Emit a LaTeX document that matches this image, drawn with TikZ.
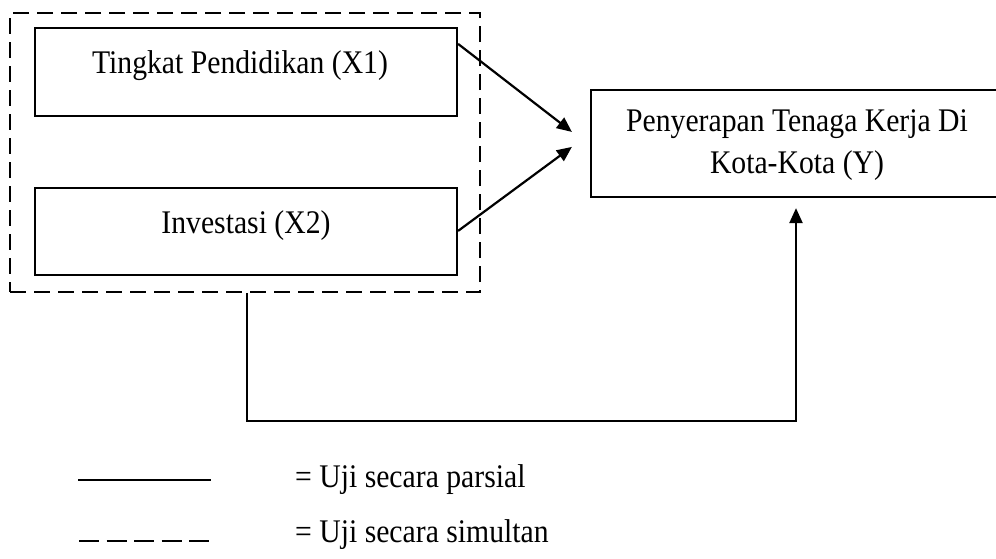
\documentclass[tikz,border=0pt]{standalone}
\usepackage{fontspec}
\setmainfont{Liberation Serif}[FakeStretch=0.9]
\usetikzlibrary{arrows.meta,calc}
\begin{document}
\begin{tikzpicture}[x=1pt,y=-1pt,
  box/.style={draw=black,line width=2.2pt,rectangle,inner sep=0pt},
  simbox/.style={draw=black,line width=2.2pt,rectangle,inner sep=0pt,dash pattern=on 16pt off 8pt},
  lbl/.style={inner sep=0pt,anchor=base,font=\fontsize{33}{36}\selectfont},
  conn/.style={draw=black,line width=2.2pt,-{Triangle[length=15pt,width=13pt]}},
  legsolid/.style={draw=black,line width=2.4pt},
  legdash/.style={draw=black,line width=2.4pt,dash pattern=on 20pt off 7.5pt}]
\useasboundingbox (0,0) rectangle (996,558);
\fill[white] (0,0) rectangle (996,558);
% boxes
\node[simbox,minimum width=470pt,minimum height=279pt] (sim) at (245,152.5) {};
\node[box,minimum width=422pt,minimum height=88pt] (x1) at (246,72) {};
\node[box,minimum width=422pt,minimum height=87pt] (x2) at (246,231.5) {};
\node[box,minimum width=412pt,minimum height=107pt] (y) at (797,143.5) {};
% texts
\node[lbl] (t1) at (240,73) {Tingkat Pendidikan (X1)};
\node[lbl] (t2) at (246,233) {Investasi (X2)};
\node[lbl] (ty1) at (797,131) {Penyerapan Tenaga Kerja Di};
\node[lbl] (ty2) at (797,173) {Kota-Kota (Y)};
% connectors
\coordinate (x1out) at ($(x1.north east)+(0,17)$);
\coordinate (x2out) at ($(x2.north east)+(0,44)$);
\coordinate (yin1) at ($(y.north west)+(-18,43)$);
\coordinate (yin2) at ($(y.north west)+(-18,58)$);
\coordinate (yin3) at ($(y.south)+(-1,10)$);
\draw[conn] (x1out) -- (yin1);
\draw[conn] (x2out) -- (yin2);
\draw[conn] ($(sim.south)+(2,0)$) -- ++(0,128) -| (yin3);
% legend
\coordinate (l1a) at (78,480);
\coordinate (l1b) at (211,480);
\coordinate (l2a) at (79,541);
\coordinate (l2b) at (211,541);
\draw[legsolid] (l1a) -- (l1b);
\draw[legdash] (l2a) -- (l2b);
\node[lbl,anchor=base west] (lt1) at (295,487) {= Uji secara parsial};
\node[lbl,anchor=base west] (lt2) at (295,542) {= Uji secara simultan};
\end{tikzpicture}
\end{document}
